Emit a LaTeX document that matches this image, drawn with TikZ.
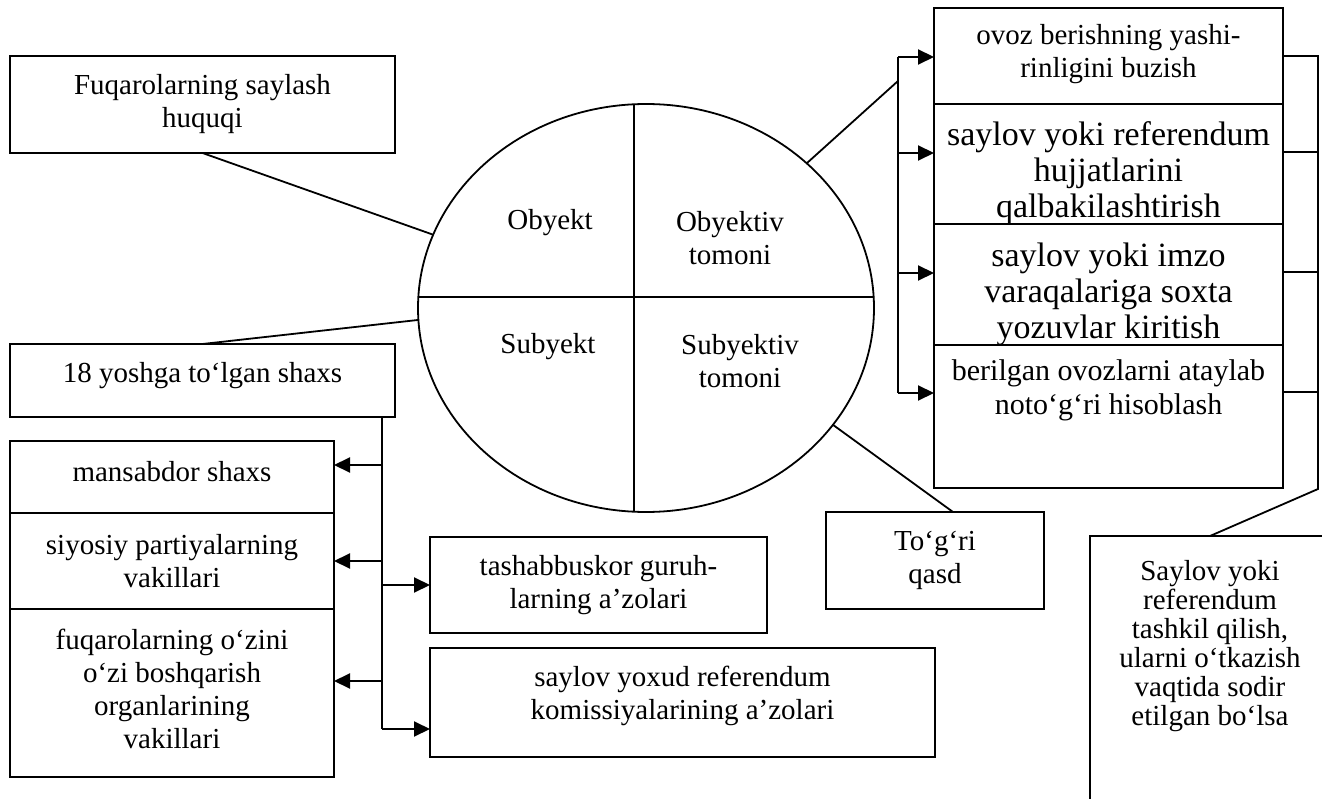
\documentclass[tikz,border=0pt]{standalone}
\usepackage{fontspec}
\setmainfont{Liberation Serif}
\usetikzlibrary{arrows.meta,shapes.geometric,calc}
\begin{document}
\begin{tikzpicture}[x=1pt,y=-1pt,
  box/.style={draw, line width=2pt, rectangle, inner sep=0pt, outer sep=0pt},
  txt/.style={align=center, inner sep=0pt, font=\fontsize{29}{33}\selectfont},
  bigtxt/.style={align=center, inner sep=0pt, font=\fontsize{34}{36}\selectfont},
  tighttxt/.style={align=center, inner sep=0pt, font=\fontsize{29}{29}\selectfont},
  conn/.style={line width=1.8pt},
  arr/.style={line width=2pt, -{Triangle[length=16pt,width=15pt]}}]
\clip (0,0) rectangle (1322,799);
\fill[white] (0,0) rectangle (1322,799);

% central ellipse
\node[draw, ellipse, line width=1.8pt, minimum width=456pt, minimum height=408pt, inner sep=0pt, outer sep=0pt] (E) at (646,308) {};
\draw[conn] (634,104.3) -- (634,511.7);
\draw[conn] (418.3,297) -- (873.7,297);
\node[txt] (tob) at (550,223) {Obyekt};
\node[txt] (tobt) at (730,238) {Obyektiv\\tomoni};
\node[txt] (tsub) at (548,347) {Subyekt};
\node[txt] (tsubt) at (740,361) {Subyektiv\\tomoni};

% left boxes
\node[box, minimum width=385pt, minimum height=97pt] (A) at (202.5,104.5) {};
\node[txt] (tA) at (202.5,104) {Fuqarolarning saylash\\huquqi};
\node[box, minimum width=385pt, minimum height=73pt] (B) at (202.5,380.5) {};
\node[txt] (tB) at (202.5,376) {18 yoshga to‘lgan shaxs};

\node[box, minimum width=324pt, minimum height=72pt] (L1) at (172,477) {};
\node[txt] (tL1) at (172,472) {mansabdor shaxs};
\node[box, minimum width=324pt, minimum height=96pt] (L2) at (172,561) {};
\node[txt] (tL2) at (172,561) {siyosiy partiyalarning\\vakillari};
\node[box, minimum width=324pt, minimum height=168pt] (L3) at (172,693) {};
\node[txt] (tL3) at (172,689) {fuqarolarning o‘zini\\o‘zi boshqarish\\organlarining\\vakillari};

\node[box, minimum width=337pt, minimum height=96pt] (Tb) at (598.5,585) {};
\node[txt] (tTb) at (598.5,585) {tashabbuskor guruh-\\larning a’zolari};
\node[box, minimum width=505pt, minimum height=109pt] (Sy) at (682.5,702.5) {};
\node[txt] (tSy) at (682.5,696) {saylov yoxud referendum\\komissiyalarining a’zolari};

% lower right
\node[box, minimum width=218pt, minimum height=97pt] (T) at (935,560.5) {};
\node[txt] (tT) at (935,560) {To‘g‘ri\\qasd};
\node[box, minimum width=240pt, minimum height=294pt] (S) at (1210,683) {};
\node[tighttxt] (tS) at (1210,646) {Saylov yoki\\referendum\\tashkil qilish,\\ularni o‘tkazish\\vaqtida sodir\\etilgan bo‘lsa};

% right stack
\node[box, minimum width=349pt, minimum height=96pt] (R1) at (1108.5,56) {};
\node[txt] (tR1) at (1108.5,54) {ovoz berishning yashi-\\rinligini buzish};
\node[box, minimum width=349pt, minimum height=120pt] (R2) at (1108.5,164) {};
\node[bigtxt] (tR2) at (1108.5,173) {saylov yoki referendum\\hujjatlarini\\qalbakilashtirish};
\node[box, minimum width=349pt, minimum height=121pt] (R3) at (1108.5,284.5) {};
\node[bigtxt] (tR3) at (1108.5,294) {saylov yoki imzo\\varaqalariga soxta\\yozuvlar kiritish};
\node[box, minimum width=349pt, minimum height=143pt] (R4) at (1108.5,416.5) {};
\node[txt, font=\fontsize{30}{34}\selectfont] (tR4) at (1108.5,390) {berilgan ovozlarni ataylab\\noto‘g‘ri hisoblash};

% connectors to ellipse
\draw[conn] (A.south) -- (E.161.5);
\draw[conn] (B.north) -- (E.183.3);
\draw[conn] (E.-32.3) -- ($(T.north)+(18,0)$);

% left bus
\coordinate (lb1) at (382,465);
\coordinate (lb2) at (382,561);
\coordinate (lb3) at (382,681);
\coordinate (lb4) at (382,585);
\coordinate (lb5) at (382,729);
\draw[conn] (B.south -| lb1) -- (lb5);
\draw[arr] (lb1) -- (lb1 -| L1.east);
\draw[arr] (lb2) -- (lb2 -| L2.east);
\draw[arr] (lb3) -- (lb3 -| L3.east);
\draw[arr] (lb4) -- (lb4 -| Tb.west);
\draw[arr] (lb5) -- (lb5 -| Sy.west);

% right bus
\coordinate (rb1) at (898,57);
\coordinate (rb2) at (898,153);
\coordinate (rb3) at (898,273);
\coordinate (rb4) at (898,393);
\coordinate (rbj) at (898,81);
\draw[conn] (rb1) -- (rb4);
\draw[conn] (E.42.2) -- (rbj);
\draw[arr] (rb1) -- (rb1 -| R1.west);
\draw[arr] (rb2) -- (rb2 -| R2.west);
\draw[arr] (rb3) -- (rb3 -| R3.west);
\draw[arr] (rb4) -- (rb4 -| R4.west);

% right bracket
\coordinate (k1) at (1318,56);
\coordinate (k2) at (1318,152);
\coordinate (k3) at (1318,272);
\coordinate (k4) at (1318,392);
\coordinate (kb) at (1318,489);
\draw[conn] (k1 -| R1.east) -- (k1) -- (kb) -- (S.north);
\draw[conn] (k2 -| R1.east) -- (k2);
\draw[conn] (k3 -| R1.east) -- (k3);
\draw[conn] (k4 -| R1.east) -- (k4);
\end{tikzpicture}
\end{document}
